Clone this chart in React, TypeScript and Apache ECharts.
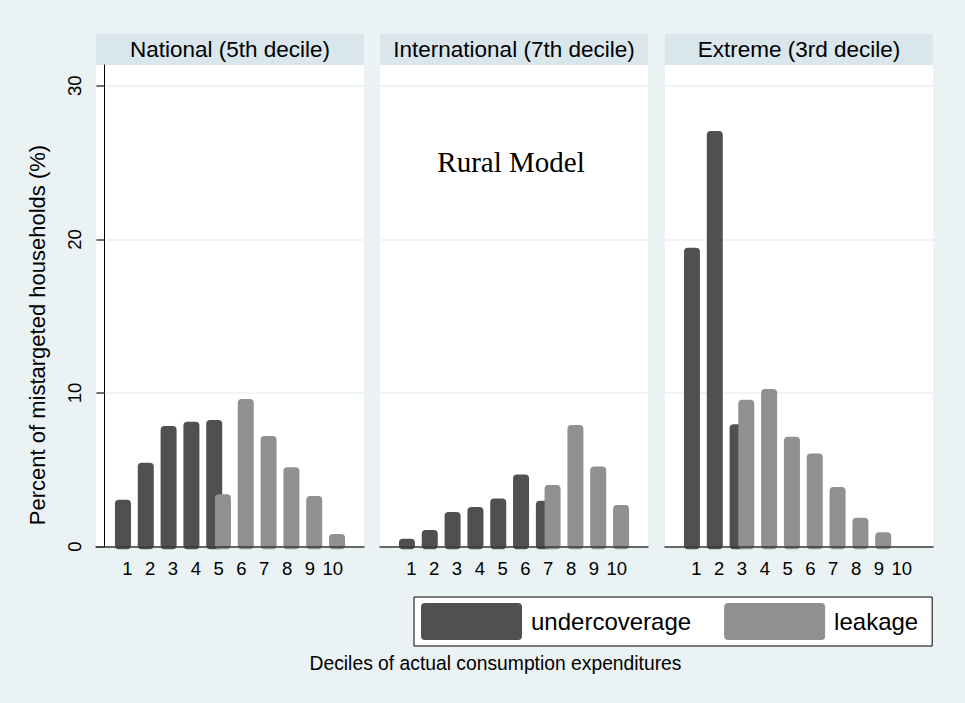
import React, { useEffect, useRef } from "react";
import * as echarts from "echarts";

const deciles = [1, 2, 3, 4, 5, 6, 7, 8, 9, 10];
const panelTitles = ["National (5th decile)", "International (7th decile)", "Extreme (3rd decile)"];
const seriesNames = ["undercoverage", "leakage"];

const undercoverageNational = [2.9, 5.3, 7.7, 7.97, 8.08, null, null, null, null, null];
const leakageNational = [null, null, null, null, 3.25, 9.45, 7.04, 5.0, 3.14, 0.66];

const undercoverageInternational = [0.35, 0.92, 2.1, 2.42, 2.98, 4.54, 2.82, null, null, null];
const leakageInternational = [null, null, null, null, null, null, 3.85, 7.75, 5.06, 2.55];

const undercoverageExtreme = [19.3, 26.9, 7.8, null, null, null, null, null, null, null];
const leakageExtreme = [null, null, 9.4, 10.1, 7.0, 5.9, 3.73, 1.72, 0.77, null];

const yTicks = [0, 10, 20, 30];
const yTitle = "Percent of mistargeted households (%)";
const xTitle = "Deciles of actual consumption expenditures";
const note = "Rural Model";

const panelData = [
  [undercoverageNational, leakageNational],
  [undercoverageInternational, leakageInternational],
  [undercoverageExtreme, leakageExtreme],
];

const SANS = "'Liberation Sans', Arial, Helvetica, sans-serif";
const SERIF = "'Liberation Serif', 'Times New Roman', serif";
const BG = "#EAF2F3";
const STRIP = "#D9E6EB";
const COLORS = ["#505050", "#909090"];
const BAR_OFFSET = [-4.35, 4.35];
const BAR_W = 16;
const OUTLINE = 2.5;

const PANEL_LEFT = [96, 380, 665];
const PANEL_W = 268;
const PLOT_TOP = 65;
const PLOT_BOTTOM = 546.7;

export default function App() {
  const ref = useRef<HTMLDivElement>(null);

  useEffect(() => {
    if (!ref.current) return;
    const chart = echarts.init(ref.current, undefined, { renderer: "svg" });

    const grids = PANEL_LEFT.map((left) => ({
      left,
      top: PLOT_TOP,
      width: PANEL_W,
      height: PLOT_BOTTOM - PLOT_TOP,
      show: true,
      backgroundColor: "#ffffff",
      borderWidth: 0,
      containLabel: false,
    }));

    const xAxes = PANEL_LEFT.map((_, i) => ({
      type: "value",
      gridIndex: i,
      min: -0.3716,
      max: 11.3716,
      z: 10,
      axisLine: { show: true, onZero: false, lineStyle: { color: "#3a3a3a", width: 1.5 } },
      axisTick: { show: false },
      splitLine: { show: false },
      axisLabel: {
        show: true,
        customValues: deciles,
        margin: 12,
        fontSize: 18.5,
        fontFamily: SANS,
        color: "#000",
        formatter: (v: number) => String(v),
      },
    }));

    const yAxes = PANEL_LEFT.map((_, i) => ({
      type: "value",
      gridIndex: i,
      min: 0,
      max: 31.35,
      interval: 10,
      axisLine: { show: i === 0, lineStyle: { color: "#000", width: 1 } },
      axisTick: {
        show: i === 0,
        customValues: yTicks,
        length: 8,
        lineStyle: { color: "#444", width: 1.5 },
      },
      axisLabel: {
        show: i === 0,
        showMaxLabel: false,
        rotate: 89.9,
        align: "center",
        verticalAlign: "bottom",
        margin: 12,
        fontSize: 18.5,
        fontFamily: SANS,
        color: "#000",
      },
      splitLine: { show: true, lineStyle: { color: BG, width: 1.5 } },
    }));

    const series: any[] = [];
    panelData.forEach((pair, p) => {
      pair.forEach((vals, s) => {
        series.push({
          type: "custom",
          name: seriesNames[s],
          xAxisIndex: p,
          yAxisIndex: p,
          clip: false,
          z: 3 + s,
          encode: { x: 0, y: 1 },
          itemStyle: { color: COLORS[s] },
          data: deciles
            .map((d, k) => [d, vals[k]])
            .filter((pt) => pt[1] !== null),
          renderItem: (params: any, api: any) => {
            const top = api.coord([api.value(0), api.value(1)]);
            const base = api.coord([api.value(0), 0]);
            return {
              type: "rect",
              shape: {
                x: top[0] + BAR_OFFSET[s] - BAR_W / 2,
                y: top[1] - OUTLINE,
                width: BAR_W,
                height: base[1] - top[1] + 2 * OUTLINE,
                r: 4,
              },
              style: { fill: COLORS[s] },
            };
          },
        });
      });
    });

    const graphics: any[] = [];
    PANEL_LEFT.forEach((left, i) => {
      graphics.push({
        type: "rect",
        shape: { x: left, y: 34, width: PANEL_W, height: PLOT_TOP - 34 },
        style: { fill: STRIP },
        silent: true,
      });
      graphics.push({
        type: "text",
        x: left + PANEL_W / 2,
        y: 49,
        style: {
          text: panelTitles[i],
          fontSize: 22.5,
          fontFamily: SANS,
          fill: "#000",
          align: "center",
          verticalAlign: "middle",
        },
        silent: true,
      });
    });
    graphics.push({
      type: "text",
      x: 511,
      y: 162,
      style: {
        text: note,
        fontSize: 29,
        fontFamily: SERIF,
        fill: "#000",
        align: "center",
        verticalAlign: "middle",
      },
      silent: true,
    });
    graphics.push({
      type: "text",
      x: 37,
      y: 335,
      rotation: Math.PI / 2,
      style: {
        text: yTitle,
        fontSize: 22,
        fontFamily: SANS,
        fill: "#000",
        align: "center",
        verticalAlign: "middle",
      },
      silent: true,
    });
    graphics.push({
      type: "text",
      x: 495.5,
      y: 663,
      style: {
        text: xTitle,
        fontSize: 19.3,
        fontFamily: SANS,
        fill: "#000",
        align: "center",
        verticalAlign: "middle",
      },
      silent: true,
    });

    chart.setOption({
      animation: false,
      backgroundColor: BG,
      grid: grids,
      xAxis: xAxes,
      yAxis: yAxes,
      series,
      legend: {
        data: seriesNames,
        left: 414,
        top: 597,
        orient: "horizontal",
        itemWidth: 101,
        itemHeight: 37,
        itemGap: 33,
        icon: "path://M4,0 H97 Q101,0 101,4 V33 Q101,37 97,37 H4 Q0,37 0,33 V4 Q0,0 4,0 Z",
        backgroundColor: "#ffffff",
        borderColor: "#000",
        borderWidth: 1,
        borderRadius: 0,
        padding: [6, 14, 6, 7],
        selectedMode: false,
        itemStyle: { borderWidth: 0 },
        textStyle: {
          fontSize: 24,
          fontFamily: SANS,
          color: "#000",
          padding: [0, 0, 0, 4],
        },
      },
      graphic: graphics,
    });

    return () => chart.dispose();
  }, []);

  return (
    <div
      ref={ref}
      style={{ position: "fixed", left: 0, top: 0, width: 965, height: 703 }}
    />
  );
}
